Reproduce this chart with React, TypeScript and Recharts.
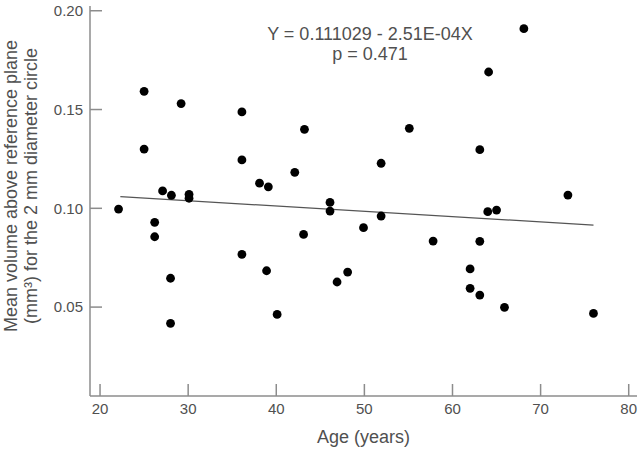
import { ScatterChart, Scatter, XAxis, YAxis } from "recharts";

// ages (years) and mean volume (mm3)
const ages = [
  22.1, 25.0, 25.0, 26.2, 26.2, 27.1, 28.1, 28.0, 28.0, 29.2, 30.1, 30.1,
  36.1, 36.1, 36.1, 38.1, 39.1, 38.9, 40.1, 42.1, 43.2, 43.1, 46.1, 46.1,
  46.9, 48.1, 49.9, 51.9, 51.9, 55.1, 57.8, 62.0, 62.0, 63.1, 63.1, 63.1,
  64.1, 64.0, 65.0, 65.9, 68.1, 73.1, 76.0,
];
const volumes = [
  0.0996, 0.1592, 0.13, 0.0929, 0.0856, 0.1088, 0.1066, 0.0646, 0.0418, 0.153, 0.1071, 0.1051,
  0.1488, 0.1245, 0.0767, 0.1127, 0.1109, 0.0684, 0.0463, 0.1182, 0.14, 0.0868, 0.103, 0.0986,
  0.0627, 0.0677, 0.0902, 0.1228, 0.0961, 0.1405, 0.0834, 0.0693, 0.0595, 0.1297, 0.0833, 0.0561,
  0.169, 0.0983, 0.0991, 0.0499, 0.1909, 0.1067, 0.0468,
];

// regression line ends
const fitAges = [22.3, 76.0];
const fitVolumes = [0.1059, 0.0915];

const xTicks = [20, 30, 40, 50, 60, 70, 80];
const yTicks = [0.05, 0.1, 0.15, 0.2];

const points = ages.map((a, i) => ({ age: a, vol: volumes[i] }));
const fit = fitAges.map((a, i) => ({ age: a, vol: fitVolumes[i] }));

const FONT = "'Liberation Sans', Arial, sans-serif";
const TEXT = "#505050";
const AXIS = "#8c8c8c";

const Dot = (props: any) => <circle cx={props.cx} cy={props.cy} r={4.4} fill="#000" />;

const YLabel = () => (
  <g fontFamily={FONT} fontSize={18} fill={TEXT}>
    <text transform="translate(17,186) rotate(-90)" textAnchor="middle">
      Mean volume above reference plane
    </text>
    <text transform="translate(37,186) rotate(-90)" textAnchor="middle">
      (mm³) for the 2 mm diameter circle
    </text>
  </g>
);

export default function App() {
  return (
    <div style={{ position: "absolute", left: 0, top: 0, width: 640, height: 449, background: "#fff" }}>
      <ScatterChart width={640} height={449} margin={{ top: 6, right: 3, left: 0, bottom: 0 }}>
        <XAxis
          type="number"
          dataKey="age"
          domain={[18.86, 80.94]}
          ticks={xTicks}
          allowDataOverflow
          height={53}
          tickSize={-12}
          tickMargin={19}
          stroke={AXIS}
          strokeWidth={1.5}
          tick={{ fill: TEXT, fontSize: 15, fontFamily: FONT }}
          label={{ value: "Age (years)", position: "insideBottom", offset: 6, fill: TEXT, fontSize: 18, fontFamily: FONT }}
        />
        <YAxis
          type="number"
          dataKey="vol"
          domain={[0.005, 0.2024]}
          ticks={yTicks}
          allowDataOverflow
          width={90}
          tickSize={-12}
          tickMargin={19}
          stroke={AXIS}
          strokeWidth={1.5}
          tickFormatter={(v: number) => v.toFixed(2)}
          tick={{ fill: TEXT, fontSize: 15, fontFamily: FONT }}
          label={<YLabel />}
        />
        <Scatter data={fit} line={{ stroke: "#555", strokeWidth: 1.3 }} shape={() => <g />} isAnimationActive={false} />
        <Scatter data={points} shape={Dot} isAnimationActive={false} />
      </ScatterChart>
      <div
        style={{
          position: "absolute",
          left: 220,
          width: 300,
          top: 24,
          textAlign: "center",
          fontFamily: FONT,
          fontSize: 18,
          lineHeight: "20px",
          color: TEXT,
        }}
      >
        <div>Y = 0.111029 - 2.51E-04X</div>
        <div>p = 0.471</div>
      </div>
    </div>
  );
}
